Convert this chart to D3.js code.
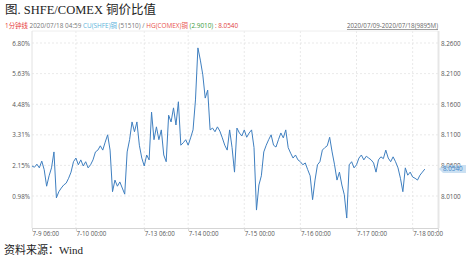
<!DOCTYPE html>
<html><head><meta charset="utf-8">
<script src="https://cdn.jsdelivr.net/npm/d3@7"></script>
<style>body{margin:0;background:#fff}svg{display:block}</style>
</head><body><svg id="c" width="467" height="259"></svg>
<script>
// ---- data ----
const sessions = ["7-9","7-10","7-13","7-14","7-15","7-16","7-17"]; // trading sessions start 06:00, 23h each
const hoursPerSession = 23;
// hourly SHFE/COMEX copper ratio, from 7-9 06:00 to 7-18 05:00
const ratio = [
 8.059,8.057,8.062,8.056,8.067,8.053,8.026,8.043,8.056,8.082,
 8.007,8.017,8.023,8.028,8.031,8.039,8.049,8.066,8.072,8.061,
 8.069,8.059,8.066,8.056,8.061,8.069,8.082,8.085,8.092,8.085,
 8.098,8.110,8.085,8.017,8.036,8.026,8.033,8.023,8.013,8.082,
 8.102,8.131,8.115,8.131,8.093,8.072,8.059,8.077,8.069,8.147,
 8.102,8.123,8.102,8.118,8.077,8.066,8.142,8.131,8.154,8.126,
 8.164,8.093,8.097,8.102,8.093,8.105,8.118,8.167,8.252,8.232,
 8.208,8.170,8.183,8.118,8.121,8.115,8.123,8.116,8.105,8.093,
 8.085,8.118,8.089,8.049,8.121,8.113,8.108,8.118,8.106,8.113,
 8.118,8.089,7.987,8.028,8.043,8.082,8.093,8.102,8.110,8.093,
 8.090,8.102,8.113,8.105,8.118,8.089,8.080,8.072,8.077,8.069,
 8.066,8.061,8.064,8.053,8.043,8.004,8.036,8.061,8.066,8.085,
 8.089,8.092,8.106,8.082,8.061,8.036,8.049,8.028,8.012,7.974,
 8.061,8.066,8.056,8.061,8.072,8.077,8.069,8.075,8.072,8.069,
 8.064,8.049,8.069,8.074,8.071,8.085,8.072,8.066,8.074,8.066,
 8.056,8.039,8.017,8.056,8.044,8.049,8.041,8.039,8.036,8.044,
 8.049,8.054
];
const xTickLabels = ["7-9 06:00","7-10 00:00","7-13 06:00","7-14 00:00","7-15 00:00","7-16 00:00","7-17 00:00","7-18 00:00"];
const rightTicks = [8.26,8.21,8.16,8.11,8.06,8.01];
const leftTicks = [6.80,5.63,4.48,3.31,2.15,0.98];
const lastValue = 8.0540;
const title = "图. SHFE/COMEX 铜价比值";
const subtitleParts = [
  {t:"1分钟线", c:"#e8403a"},
  {t:" 2020/07/18 04:59 ", c:"#777"},
  {t:"CU(SHFE)铜", c:"#5bb3da"},
  {t:" (51510) / ", c:"#777"},
  {t:"HG(COMEX)铜", c:"#e8504a"},
  {t:" (2.9010)", c:"#3a9a3a"},
  {t:" : 8.0540", c:"#e04040"}
];
const rangeText = "2020/07/09-2020/07/18(9895M)";
const source = "资料来源：Wind";

// ---- layout ----
const L = 32, R = 438, T = 31, B = 228;
const svg = d3.select("#c");
const sans = "'Open Sans','Noto Sans CJK SC',sans-serif";
const serif = "'Liberation Serif','Noto Sans CJK SC',serif";

function tradingHour(label){
  const [md, hm] = label.split(" ");
  const day = +md.split("-")[1];
  const hh = +hm.split(":")[0];
  const days = sessions.map(s => +s.split("-")[1]);
  let idx, off;
  if (hh >= 6) { idx = days.indexOf(day); off = hh - 6; }
  else { idx = d3.bisectLeft(days, day) - 1; off = hh + 18; }
  return idx * hoursPerSession + off;
}

const x = d3.scaleLinear().domain([0, ratio.length - 1 + 5.4]).range([L, R]);
const y = d3.scaleLinear().domain([8.01, 8.26]).range([196, 43]);
const yL = d3.scaleLinear().domain([0.98, 6.80]).range([196, 43]);

// title
svg.append("text").attr("x",5).attr("y",14).attr("font-family",serif)
  .attr("font-size",12.5).attr("fill","#222").text(title);
const st = svg.append("text").attr("x",5).attr("y",28).attr("font-family",sans).attr("font-size",6.4);
subtitleParts.forEach(p => st.append("tspan").attr("fill",p.c).text(p.t));
svg.append("text").attr("x",R).attr("y",28).attr("text-anchor","end").attr("font-family",sans)
  .attr("font-size",6.2).attr("fill","#666").attr("text-decoration","underline").text(rangeText);

// grid
const g = svg.append("g");
g.selectAll(".hg").data(rightTicks).join("line")
  .attr("x1",L).attr("x2",R).attr("y1",d=>y(d)).attr("y2",d=>y(d))
  .attr("stroke","#e3e3e3").attr("stroke-dasharray","2,2").attr("stroke-width",0.8);
g.selectAll(".vg").data(xTickLabels.slice(1)).join("line")
  .attr("x1",d=>x(tradingHour(d))).attr("x2",d=>x(tradingHour(d))).attr("y1",T).attr("y2",B)
  .attr("stroke","#e3e3e3").attr("stroke-dasharray","2,2").attr("stroke-width",0.8);

// frame
svg.append("line").attr("x1",L).attr("x2",R).attr("y1",T).attr("y2",T).attr("stroke","#eeeeee");
svg.append("line").attr("x1",L).attr("x2",L).attr("y1",T).attr("y2",B).attr("stroke","#e2e2e2");
svg.append("line").attr("x1",R+0.5).attr("x2",R+0.5).attr("y1",T).attr("y2",B).attr("stroke","#e6e6e6").attr("stroke-width",2);

// x axis
const xAxis = d3.axisBottom(x).tickValues(xTickLabels.map(tradingHour))
  .tickFormat((d,i)=>xTickLabels[i]).tickSize(3).tickPadding(1);
const xa = svg.append("g").attr("transform",`translate(0,${B})`).call(xAxis);
xa.select(".domain").attr("stroke","#d5d5d5");
xa.selectAll(".tick line").attr("stroke","#d5d5d5");
xa.selectAll("text").attr("text-anchor","start").attr("font-family",sans).attr("font-size",6.2).attr("fill","#555");

// left axis
const la = svg.append("g").attr("transform",`translate(${L},0)`)
  .call(d3.axisLeft(yL).tickValues(leftTicks).tickFormat(d=>d.toFixed(2)+"%").tickSize(0).tickPadding(2));
la.select(".domain").remove();
la.selectAll("text").attr("font-family",sans).attr("font-size",6.3).attr("fill","#555");

// right axis
const ra = svg.append("g").attr("transform",`translate(${R},0)`)
  .call(d3.axisRight(y).tickValues(rightTicks).tickFormat(d3.format(".4f")).tickSize(0).tickPadding(3));
ra.select(".domain").remove();
ra.selectAll("text").attr("font-family",sans).attr("font-size",6.3).attr("fill","#555");

// line
const line = d3.line().x((d,i)=>x(i)).y(d=>y(d));
svg.append("path").datum(ratio).attr("d",line).attr("fill","none")
  .attr("stroke","#3f7fc0").attr("stroke-width",1).attr("stroke-linejoin","round");

// last value tag
const ty = y(lastValue);
svg.append("path")
  .attr("d",`M${R+1},${ty} L${R+5},${ty-4} L${R+28},${ty-4} L${R+28},${ty+4} L${R+5},${ty+4} Z`)
  .attr("fill","#a9cbea").attr("opacity",0.6);
svg.append("text").attr("x",R+5).attr("y",ty+2.3).attr("font-family",sans).attr("font-size",6.3)
  .attr("fill","#3f86c8").text(d3.format(".4f")(lastValue));

// source
svg.append("text").attr("x",4).attr("y",254).attr("font-family",serif)
  .attr("font-size",11).attr("fill","#222").text(source);
</script></body></html>
